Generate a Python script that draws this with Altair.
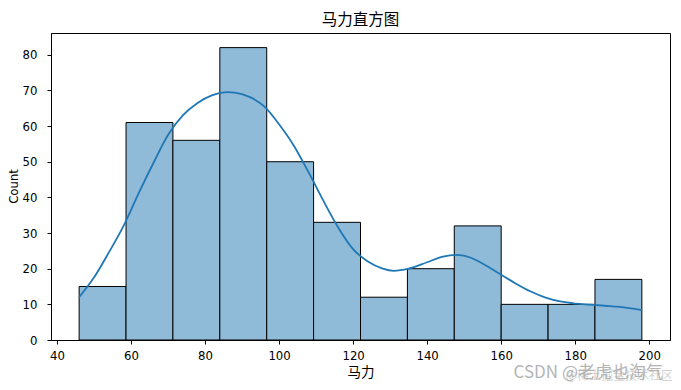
import altair as alt
import pandas as pd

# Histogram bins (horsepower) and counts
bin_edges = [46.0, 58.67, 71.33, 84.0, 96.67, 109.33, 122.0, 134.67, 147.33, 160.0, 172.67, 185.33, 198.0]
counts = [15, 61, 56, 82, 50, 33, 12, 20, 32, 10, 10, 17]

# KDE curve
kde_x = [46, 50, 54, 58, 62, 66, 70, 74, 78, 82, 86, 88, 92, 96, 100, 104, 108, 112, 116, 120,
         124, 128, 131, 135, 140, 144, 148, 152, 156, 160, 164, 168, 172, 176, 180, 184, 188, 192, 198]
kde_y = [12, 17.5, 24.5, 32, 41, 49.5, 57.5, 63, 66.5, 68.7, 69.5, 69.4, 68.2, 65.5, 60.5, 54.5, 47, 39, 31.5, 25.5,
         22, 20, 19.4, 20, 21.8, 23.3, 23.9, 23, 20.8, 18.3, 15.8, 13.6, 11.9, 10.8, 10.2, 9.9, 9.6, 9.3, 8.4]

x_ticks = [40, 60, 80, 100, 120, 140, 160, 180, 200]
y_ticks = [0, 10, 20, 30, 40, 50, 60, 70, 80]

watermark = ["CSDN @老虎也淘气"]
watermark2 = ["@稀土掘金技术社区"]

FONT = "Noto Sans CJK SC"
NUM_FONT = "Liberation Sans Narrow, DejaVu Sans Condensed, Noto Sans CJK SC"

bars = pd.DataFrame({
    "start": bin_edges[:-1],
    "end": bin_edges[1:],
    "count": counts,
})
kde = pd.DataFrame({"hp": kde_x, "density": kde_y})

xscale = alt.Scale(domain=[38.4, 205.6], nice=False, zero=False)
yscale = alt.Scale(domain=[0, 86.1], nice=False)

xaxis = alt.Axis(values=x_ticks, title="马力", grid=False, tickSize=4, tickColor="black",
                 domainColor="black", labelColor="black", titleColor="black",
                 labelFont=NUM_FONT, titleFont=FONT, labelFontSize=13, titleFontSize=13.5,
                 titleFontWeight="normal", labelPadding=5, titlePadding=3, labelFlush=False,
                 labelOverlap=False)
yaxis = alt.Axis(values=y_ticks, title="Count", grid=False, tickSize=4, tickColor="black",
                 domainColor="black", labelColor="black", titleColor="black",
                 labelFont=NUM_FONT, titleFont=NUM_FONT, labelFontSize=13, titleFontSize=13,
                 titleFontWeight="normal", labelPadding=10, labelFlush=False,
                 labelOverlap=False, titleX=-31, titleY=153, titleAngle=270,
                 titleAlign="center", titleBaseline="bottom")

hist = alt.Chart(bars).mark_rect(
    fill="#8fbbd9", stroke="black", strokeWidth=1
).encode(
    x=alt.X("start:Q", scale=xscale, axis=xaxis),
    x2="end:Q",
    y=alt.Y("count:Q", scale=yscale, axis=yaxis),
    y2=alt.datum(0),
)

line = alt.Chart(kde).mark_line(
    color="#1f77b4", strokeWidth=1.8, interpolate="monotone"
).encode(
    x=alt.X("hp:Q", scale=xscale, axis=xaxis),
    y=alt.Y("density:Q", scale=yscale, axis=yaxis),
)

wm2 = alt.Chart(pd.DataFrame({"t": watermark2})).mark_text(
    font=FONT, fontSize=12, color="#c8c8c8", align="right", baseline="middle", opacity=0.8
).encode(
    text="t:N",
    x=alt.value(622),
    y=alt.value(343),
)

wm = alt.Chart(pd.DataFrame({"t": watermark})).mark_text(
    font=FONT, fontSize=17, color="#a8a8a8", align="right", baseline="middle", opacity=0.85
).encode(
    text="t:N",
    x=alt.value(612),
    y=alt.value(340),
)

chart = alt.layer(hist, line, wm2, wm).properties(
    width=619,
    height=307,
    autosize="none",
    padding={"left": 43, "top": 25, "right": 2, "bottom": 42},
    title=alt.TitleParams("马力直方图", font=FONT, fontSize=15.5, fontWeight="normal",
                          color="black", offset=5, anchor="middle"),
).configure_view(
    stroke="black", strokeWidth=1
)

chart.save("out.html", embed_options={"renderer": "svg", "actions": False})
